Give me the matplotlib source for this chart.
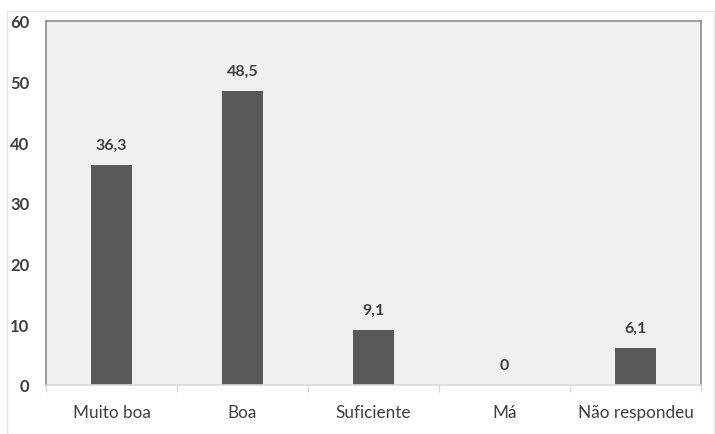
import numpy as np
import matplotlib.pyplot as plt

categorias = ["Muito boa", "Boa", "Suficiente", "Má", "Não respondeu"]
valores = [36.3, 48.5, 9.1, 0, 6.1]
rotulos = ["36,3", "48,5", "9,1", "0", "6,1"]
y_ticks = [0, 10, 20, 30, 40, 50, 60]

plt.rcParams['font.family'] = ['Lato', 'DejaVu Sans']
txt = '#404040'

fig = plt.figure(figsize=(7.15, 4.35), dpi=100)
# faint outer chart border
fig.patches.append(plt.Rectangle((7/715, 0), 1 - 7/715 - 0.002, 1 - 12/435,
                                 transform=fig.transFigure, fill=False,
                                 edgecolor='#e6e6e6', linewidth=1))
ax = fig.add_axes([46/715, 1 - 386/435, (701 - 46)/715, (386 - 22)/435])
ax.set_facecolor('#f0f0f0')

x = np.arange(len(categorias))
ax.bar(x, valores, width=0.31, color='#595959')
for xi, v, r in zip(x, valores, rotulos):
    ax.text(xi, v + 2.2, r, ha='center', va='bottom', fontsize=11.5,
            fontweight='bold', color=txt)

ax.set_xlim(-0.5, len(categorias) - 0.5)
ax.set_ylim(0, 60)
ax.set_yticks(y_ticks)
ax.set_yticklabels([str(t) for t in y_ticks], fontsize=12, fontweight='bold', color=txt)
ax.tick_params(axis='y', length=0, pad=12)

ax.set_xticks(x)
ax.set_xticklabels(categorias, fontsize=12.3, color=txt)
ax.set_xticks(np.arange(len(categorias) + 1) - 0.5, minor=True)
ax.tick_params(axis='x', which='major', length=0, pad=14)
ax.tick_params(axis='x', which='minor', length=5, color='#d9d9d9', width=1)

for s in ['top', 'left', 'right']:
    ax.spines[s].set_color('#8c8c8c')
    ax.spines[s].set_linewidth(1.2)
ax.spines['bottom'].set_color('#d9d9d9')
ax.spines['bottom'].set_linewidth(1.2)

fig.savefig('out.png', dpi=100)
